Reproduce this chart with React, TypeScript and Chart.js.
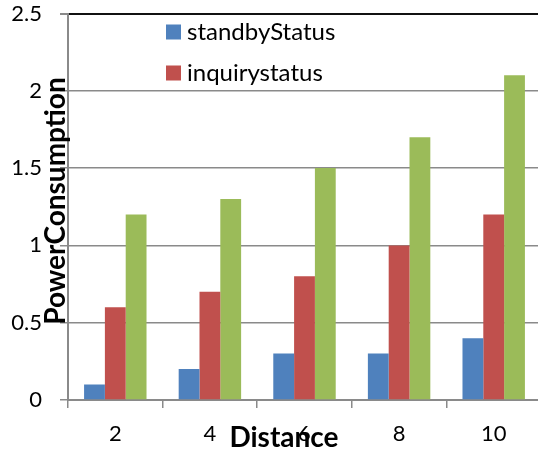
import React, { useEffect, useRef } from "react";
import { Chart, registerables } from "chart.js";

Chart.register(...registerables);

const categories = ["2", "4", "6", "8", "10"];
const standbyStatus = [0.1, 0.2, 0.3, 0.3, 0.4];
const inquirystatus = [0.6, 0.7, 0.8, 1.0, 1.2];
const thirdSeries = [1.2, 1.3, 1.5, 1.7, 2.1];
const seriesLabels = ["standbyStatus", "inquirystatus", ""];
const yTitle = "PowerConsumption";
const xTitle = "Distance";

const COLORS = ["#4F81BD", "#C0504D", "#9BBB59"];
const FONT = "Lato, 'Open Sans', sans-serif";

const overlayPlugin = {
  id: "overlay",
  afterDraw(chart: any) {
    const { ctx, chartArea } = chart;
    ctx.save();
    // legend
    const lx = chartArea.left + 98;
    const rows = [32, 73];
    [0, 1].forEach((i) => {
      ctx.fillStyle = COLORS[i];
      ctx.fillRect(lx, rows[i] - 7.5, 15, 15);
      ctx.fillStyle = "#000";
      ctx.font = `24px ${FONT}`;
      ctx.textAlign = "left";
      ctx.textBaseline = "middle";
      ctx.fillText(seriesLabels[i], lx + 21, rows[i]);
    });
    // y title
    ctx.font = `bold 28px ${FONT}`;
    ctx.fillStyle = "#000";
    ctx.textAlign = "center";
    ctx.textBaseline = "alphabetic";
    ctx.translate(65, 201);
    ctx.rotate(-Math.PI / 2);
    ctx.fillText(yTitle, 0, 0);
    ctx.restore();
    ctx.save();
    ctx.font = `bold 28px ${FONT}`;
    ctx.fillStyle = "#000";
    ctx.textAlign = "center";
    ctx.textBaseline = "alphabetic";
    ctx.fillText(xTitle, 284, 447);
    ctx.restore();
  },
};

export default function App() {
  const ref = useRef<HTMLCanvasElement>(null);
  useEffect(() => {
    const chart = new Chart(ref.current!, {
      type: "bar",
      data: {
        labels: categories,
        datasets: [standbyStatus, inquirystatus, thirdSeries].map((d, i) => ({
          label: seriesLabels[i],
          data: d,
          backgroundColor: COLORS[i],
          borderWidth: 0,
          barPercentage: 1,
          categoryPercentage: 0.66,
        })),
      },
      options: {
        animation: false,
        responsive: false,
        maintainAspectRatio: false,
        layout: { padding: { top: 2, right: 0, left: 0, bottom: 0 } },
        plugins: { legend: { display: false }, tooltip: { enabled: false } },
        scales: {
          x: {
            afterFit: (s: any) => {
              s.height = 56;
              s.paddingLeft = 0;
              s.paddingRight = 0;
            },
            grid: {
              display: true,
              drawOnChartArea: false,
              drawTicks: true,
              tickLength: 8,
              color: "#8a8a8a",
              lineWidth: 1.5,
            },
            border: { color: "#8a8a8a", width: 2 },
            ticks: {
              color: "#000",
              font: { family: FONT, size: 22 },
              padding: 13,
              maxRotation: 0,
            },
          },
          y: {
            min: 0,
            max: 2.5,
            afterFit: (s: any) => {
              s.width = 68;
              s.paddingTop = 13.5;
              s.paddingBottom = 0;
            },
            grid: {
              color: (c: any) => (c.tick && c.tick.value === 2.5 ? "#111" : "#8a8a8a"),
              lineWidth: (c: any) => (c.tick && c.tick.value === 2.5 ? 2 : 1.5),
              tickLength: 8,
              tickColor: "#8a8a8a",
            },
            border: { color: "#8a8a8a", width: 2 },
            ticks: {
              stepSize: 0.5,
              color: "#000",
              font: { family: FONT, size: 22 },
              padding: 18,
              callback: (v: any) => String(v),
            },
          },
        },
      },
      plugins: [overlayPlugin],
    });
    return () => chart.destroy();
  }, []);
  return (
    <div
      style={{
        position: "absolute",
        left: 0,
        top: 0,
        width: 538,
        height: 456,
        overflow: "hidden",
        background: "#fff",
      }}
    >
      <canvas ref={ref} width={541} height={456} style={{ display: "block" }} />
    </div>
  );
}
